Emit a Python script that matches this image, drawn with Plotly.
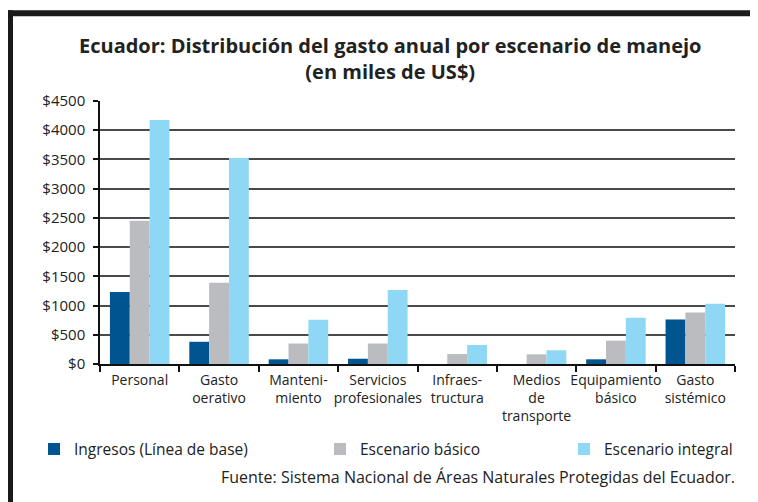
import plotly.graph_objects as go

categories = ["Personal", "Gasto<br>oerativo", "Manteni-<br>miento", "Servicios<br>profesionales",
              "Infraes-<br>tructura", "Medios<br>de<br>transporte", "Equipamiento<br>básico", "Gasto<br>sistémico"]
series_names = ["Ingresos (Línea de base)", "Escenario básico", "Escenario integral"]
ingresos = [1230, 380, 80, 90, 0, 0, 80, 760]
basico = [2450, 1390, 350, 350, 170, 165, 400, 880]
integral = [4175, 3525, 755, 1265, 325, 235, 790, 1030]
colors = ["#00548f", "#bbbcc0", "#8fd8f5"]
y_ticks = [0, 500, 1000, 1500, 2000, 2500, 3000, 3500, 4000, 4500]
y_ticktext = ["$" + str(v) for v in y_ticks]

FONT = "Open Sans"
OFF = 8  # page body margin
W, H = 758 - OFF, 502 - OFF
L, R, T, B = 100 - OFF, 735 - OFF, 101 - OFF, 364.5 - OFF

def px_x(x):
    return (x - L) / (R - L)

def px_y(y):
    return (B - y) / (B - T)

fig = go.Figure()
legends = ["legend", "legend2", "legend3"]
for name, vals, col, lg in zip(series_names, [ingresos, basico, integral], colors, legends):
    fig.add_trace(go.Bar(x=categories, y=vals, name=name, marker=dict(color=col, line=dict(width=0)),
                         legend=lg))

leg_x = [26, 312, 556]
common_leg = dict(orientation="h", xanchor="left", yanchor="middle", y=px_y(442),
                  font=dict(family=FONT, size=15.5, color="#222"), bgcolor="rgba(0,0,0,0)",
                  itemwidth=30, tracegroupgap=0)
fig.update_layout(
    legend=dict(x=px_x(leg_x[0]), **common_leg),
    legend2=dict(x=px_x(leg_x[1]), **common_leg),
    legend3=dict(x=px_x(leg_x[2]), **common_leg),
)

fig.update_layout(
    width=W, height=H,
    margin=dict(l=L, r=W - R, t=T, b=H - B, pad=0, autoexpand=False),
    paper_bgcolor="white", plot_bgcolor="white",
    barmode="group", bargap=0.25, bargroupgap=0,
    font=dict(family=FONT, color="#222"),
    showlegend=True,
)

fig.add_annotation(text="<b>Ecuador: Distribución del gasto anual por escenario de manejo<br>(en miles de US$)</b>",
                   xref="paper", yref="paper", x=px_x(390 - OFF), y=px_y(58 - OFF),
                   xanchor="center", yanchor="middle", showarrow=False,
                   font=dict(family=FONT, size=20, color="#222"))

fig.update_yaxes(range=[0, 4500], tickvals=y_ticks, ticktext=y_ticktext, automargin=False,
                 showgrid=True, gridcolor="#4a4a4a", gridwidth=1.5,
                 showline=True, linecolor="#111", linewidth=1.5,
                 ticks="outside", ticklen=5, tickcolor="#111", tickwidth=1.5, ticklabelstandoff=5,
                 tickfont=dict(family=FONT, size=15, color="#222"), zeroline=False)
fig.update_xaxes(showline=True, linecolor="#111", linewidth=1.5, automargin=False, tickangle=0,
                 ticks="outside", tickson="boundaries", ticklen=6, tickcolor="#111", tickwidth=1.5,
                 ticklabelstandoff=2,
                 tickfont=dict(family=FONT, size=14, color="#222"), showgrid=False)

# frame
fig.add_shape(type="rect", xref="paper", yref="paper",
              x0=px_x(0), x1=px_x(5), y0=px_y(H + 10), y1=px_y(2),
              fillcolor="#1a1a1a", line=dict(width=0))
fig.add_shape(type="rect", xref="paper", yref="paper",
              x0=px_x(0), x1=px_x(W + 10), y0=px_y(8), y1=px_y(2),
              fillcolor="#1a1a1a", line=dict(width=0))

fig.add_annotation(text="Fuente: Sistema Nacional de Áreas Naturales Protegidas del Ecuador.",
                   xref="paper", yref="paper", x=px_x(737 - OFF), y=px_y(478 - OFF),
                   xanchor="right", yanchor="middle", showarrow=False,
                   font=dict(family=FONT, size=16, color="#222"))

fig.write_html("out.html")
